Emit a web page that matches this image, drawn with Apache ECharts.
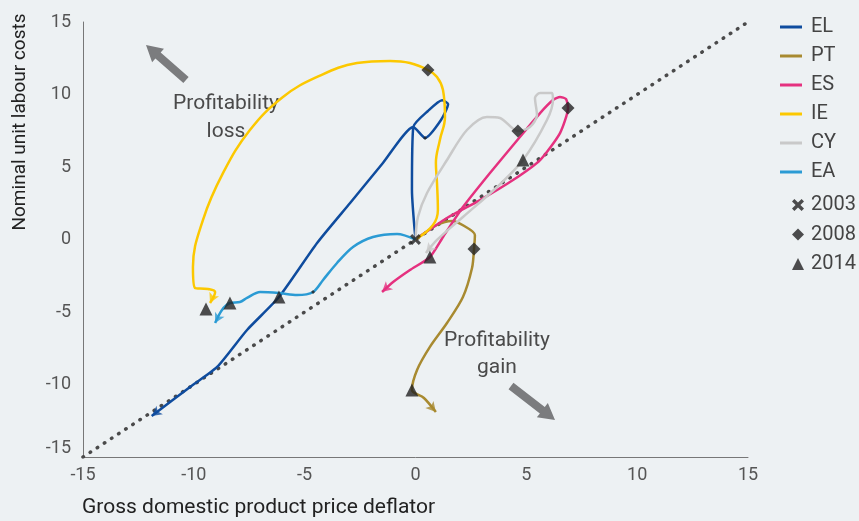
<!DOCTYPE html>
<html>
<head>
<meta charset="utf-8">
<script src="https://cdn.jsdelivr.net/npm/echarts/dist/echarts.min.js"></script>
<style>html,body{margin:0;padding:0;background:#edf1f3}#chart{width:859px;height:521px}</style>
</head>
<body>
<div id="chart"></div>
<script>
// paths: [GDP deflator, nominal ULC], cumulative from 2003
const EL = [[0,0],[-0.16,3.4],[-0.1,7.76],[0.56,8.86],[1.2,9.6],[1.47,9.34],[1.15,8.24],[0.43,7.0],[-0.1,7.76],
  [-1.47,5.28],[-2.95,2.52],[-4.44,-0.24],[-6.16,-3.97],[-7.6,-6.24],[-8.95,-8.79],[-10.17,-10.17],[-11.9,-12.17]];
const PT = [[0,0],[0.97,1.0],[1.65,1.28],[2.2,0.93],[2.68,0.31],[2.64,-0.66],[2.55,-1.97],[2.14,-3.97],[1.42,-5.76],
  [0.65,-7.41],[0.07,-9.0],[-0.16,-10.38],[0.38,-10.93],[0.92,-11.9]];
const ES = [[0,0],[1.42,1.48],[2.91,2.72],[4.4,4.1],[5.62,5.48],[6.52,7.34],[6.88,9.07],[6.79,9.69],[6.52,9.83],
  [6.2,9.62],[5.62,8.72],[4.71,7.07],[3.36,4.59],[2.14,2.24],[1.24,0.17],[0.65,-1.21],[-0.25,-2.1],[-1.01,-2.93],[-1.51,-3.62]];
const IE = [[0,0],[0.79,1.0],[1.01,2.03],[0.97,3.9],[0.92,5.28],[1.1,6.86],[1.33,8.45],[1.24,10.31],[0.97,11.21],
  [0.56,11.69],[-0.25,12.17],[-1.15,12.31],[-2.64,12.17],[-4.44,11.21],[-5.98,9.83],[-7.47,7.55],[-8.68,4.59],
  [-9.59,1.34],[-10.04,-1.9],[-9.95,-3.34],[-9.36,-3.41],[-9.04,-3.62],[-9.27,-4.38]];
const CY = [[0,0],[0.11,1.55],[0.52,3.21],[1.42,5.48],[2.32,7.55],[3.22,8.45],[3.81,8.38],[4.62,7.48],[5.16,7.76],
  [5.48,8.59],[5.39,9.76],[5.62,10.1],[6.16,10.1],[6.2,9.62],[5.93,8.24],[4.85,5.48],[3.68,3.62],[2.14,1.55],[0.97,-0.03],[0.47,-0.93]];
const EA = [[0,0],[-0.83,0.38],[-1.92,0.17],[-2.82,-0.52],[-3.54,-1.62],[-4.17,-2.79],[-4.62,-3.62],[-5.34,-3.83],
  [-6.16,-3.69],[-7.01,-3.62],[-7.6,-4.03],[-7.92,-4.31],[-8.37,-4.38],[-8.73,-4.86],[-9.04,-5.76]];

const countries = ['EL', 'PT', 'ES', 'IE', 'CY', 'EA'];
const paths = { EL, PT, ES, IE, CY, EA };
const colors = { EL: '#0f4c9e', PT: '#a88a30', ES: '#e5317f', IE: '#fcc800', CY: '#c9c9c9', EA: '#2b9bd4' };
const smoothing = { EL: 0.2, PT: 0.3, ES: 0.2, IE: 0.4, CY: 0.3, EA: 0.3 };

const marks2003 = [[0, 0]];
const marks2008 = [[0.56,11.69],[2.64,-0.66],[4.62,7.48],[6.88,9.07]];
const marks2008small = [[0.43,7.0],[-4.62,-3.62]];
const marks2014 = [[-6.16,-3.97],[-0.16,-10.38],[0.65,-1.21],[-9.45,-4.79],[4.85,5.48],[-8.37,-4.38]];
const diagonal = [[-15,-15],[15,15]];

const crossPath = 'path://M0,2 L2,0 L5,3 L8,0 L10,2 L7,5 L10,8 L8,10 L5,7 L2,10 L0,8 L3,5 Z';
const dark = '#222';

let myChart = echarts.init(document.getElementById('chart'));

function arrowPts(x0, y0, x1, y1, sw, hw, hl) {
    const dx = x1 - x0, dy = y1 - y0, L = Math.hypot(dx, dy);
    const ux = dx / L, uy = dy / L, nx = -uy, ny = ux;
    const bx = x1 - ux * hl, by = y1 - uy * hl;
    return [
        [x0 + nx * sw, y0 + ny * sw], [bx + nx * sw, by + ny * sw], [bx + nx * hw, by + ny * hw],
        [x1, y1],
        [bx - nx * hw, by - ny * hw], [bx - nx * sw, by - ny * sw], [x0 - nx * sw, y0 - ny * sw]
    ];
}

const axisCommon = {
    type: 'value', min: -15, max: 15, interval: 5,
    splitLine: { show: false },
    axisTick: { show: false },
    axisLine: { onZero: false, lineStyle: { color: '#777', width: 1 } }
};

const lineSeries = countries.map(c => ({
    name: c, type: 'line', data: paths[c], smooth: smoothing[c], symbol: 'none',
    lineStyle: { width: 2.5, color: colors[c] }, itemStyle: { color: colors[c] }, z: 3
}));

const textFont = 'Roboto, sans-serif';

option = {
    backgroundColor: '#edf1f3',
    textStyle: { fontFamily: textFont },
    grid: { left: 83, right: 111, top: 22, bottom: 64 },
    xAxis: Object.assign({}, axisCommon, {
        axisLabel: { color: '#555', fontSize: 18, margin: 9, fontFamily: textFont }
    }),
    yAxis: Object.assign({}, axisCommon, {
        axisLabel: {
            color: '#555', fontSize: 18, margin: 12, fontFamily: textFont,
            formatter: v => v === -15 ? '{lo|-15}' : String(v),
            rich: { lo: { fontSize: 18, color: '#555', padding: [0, 0, 18, 0] } }
        }
    }),
    legend: [{
        data: countries,
        orient: 'vertical', left: 775, top: 11,
        icon: 'rect', itemWidth: 22, itemHeight: 3, itemGap: 7,
        selectedMode: false,
        textStyle: { fontSize: 20, color: '#444', lineHeight: 22, padding: [0, 0, 0, 4] }
    }, {
        data: [{ name: '2003', icon: crossPath }, { name: '2008', icon: 'diamond' }, { name: '2014', icon: 'triangle' }],
        orient: 'vertical', left: 787, top: 189,
        itemWidth: 12, itemHeight: 12, itemGap: 7.5,
        selectedMode: false,
        textStyle: { fontSize: 20, color: '#444', lineHeight: 22, padding: [0, 0, 0, 2] }
    }],
    graphic: [
        { type: 'polygon', shape: { points: arrowPts(186, 80, 146, 45, 4, 9, 16) }, style: { fill: '#7b7c7e' } },
        { type: 'polygon', shape: { points: arrowPts(511, 386, 555, 420, 4, 9, 16) }, style: { fill: '#7b7c7e' } },
        { type: 'text', x: 226, y: 118, style: { text: 'Profitability\nloss', font: '21px Roboto', fill: '#4a4a4a', align: 'center', verticalAlign: 'middle', lineHeight: 28 } },
        { type: 'text', x: 497, y: 354, style: { text: 'Profitability\ngain', font: '21px Roboto', fill: '#4a4a4a', align: 'center', verticalAlign: 'middle', lineHeight: 27 } },
        { type: 'text', x: 20, y: 122, rotation: Math.PI / 2, style: { text: 'Nominal unit labour costs', font: '19px Roboto', fill: '#222', align: 'center', verticalAlign: 'middle' } },
        { type: 'text', x: 82, y: 508, style: { text: 'Gross domestic product price deflator', font: '21px Roboto', fill: '#222', align: 'left', verticalAlign: 'middle' } }
    ],
    series: [
        {
            name: 'diag', type: 'line', data: diagonal, symbol: 'none', silent: true, z: 2,
            lineStyle: { color: '#4a4a4a', width: 3.5, type: [0.5, 8], cap: 'round' }
        },
        ...lineSeries,
        { name: 'arrows', type: 'scatter', data: [], symbol: 'arrow', symbolSize: [8, 10], silent: true, z: 4 },
        { name: '2003', type: 'scatter', data: marks2003, symbol: crossPath, symbolSize: 11, itemStyle: { color: dark }, z: 5 },
        { name: '2008', type: 'scatter', data: marks2008.concat(marks2008small.map(p => ({ value: p, symbolSize: 4 }))), symbol: 'diamond', symbolSize: 13, itemStyle: { color: dark }, z: 5 },
        { name: '2014', type: 'scatter', data: marks2014, symbol: 'triangle', symbolSize: 13, itemStyle: { color: dark }, z: 5 }
    ]
};

myChart.setOption(option);

// arrow heads at the end of each path, oriented along the last segment
const arrowData = countries.map(c => {
    const p = paths[c];
    const a = myChart.convertToPixel({ gridIndex: 0 }, p[p.length - 2]);
    const b = myChart.convertToPixel({ gridIndex: 0 }, p[p.length - 1]);
    const rot = Math.atan2(-(b[0] - a[0]), -(b[1] - a[1])) * 180 / Math.PI;
    return { value: p[p.length - 1], symbolRotate: rot, itemStyle: { color: colors[c] } };
});
myChart.setOption({ series: [{ name: 'arrows', data: arrowData }] });
</script>
</body>
</html>
